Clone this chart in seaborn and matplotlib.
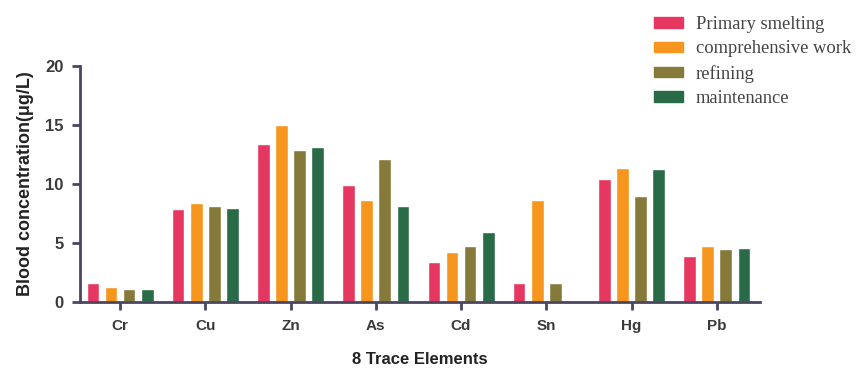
import numpy as np
import pandas as pd
import matplotlib
matplotlib.use("Agg")
import matplotlib.pyplot as plt
import seaborn as sns

# data
elements = ["Cr", "Cu", "Zn", "As", "Cd", "Sn", "Hg", "Pb"]
groups = ["Primary smelting", "comprehensive work", "refining", "maintenance"]
primary_smelting = [1.6, 7.9, 13.4, 9.95, 3.35, 1.6, 10.45, 3.9]
comprehensive_work = [1.3, 8.4, 15.0, 8.6, 4.2, 8.6, 11.35, 4.75]
refining = [1.1, 8.1, 12.9, 12.1, 4.7, 1.6, 9.0, 4.5]
maintenance = [1.1, 8.0, 13.1, 8.1, 5.9, 0.0, 11.3, 4.6]
colors = ["#E5375F", "#F7961F", "#867A3B", "#2A6B47"]

df = pd.DataFrame({
    "element": elements * 4,
    "group": np.repeat(groups, len(elements)),
    "value": primary_smelting + comprehensive_work + refining + maintenance,
})

sns.set_style("white")
plt.rcParams["font.family"] = ["Liberation Sans", "DejaVu Sans"]

fig = plt.figure(figsize=(8.6, 3.75), dpi=100)
ax = fig.add_axes([0.093, 0.195, 0.791, 0.629])

sns.barplot(data=df, x="element", y="value", hue="group", order=elements,
            hue_order=groups, palette=colors, width=0.85, gap=0.3,
            saturation=1, legend=False, ax=ax)

axis_col = "#4B4660"
ax.set_ylim(0, 20)
ax.set_xlim(-0.47, 7.51)
ax.set_yticks([0, 5, 10, 15, 20])
for s in ["top", "right"]:
    ax.spines[s].set_visible(False)
for s in ["left", "bottom"]:
    ax.spines[s].set_color(axis_col)
    ax.spines[s].set_linewidth(2)
ax.tick_params(axis="both", bottom=True, left=True, direction="out", length=6,
               width=2, color=axis_col, labelcolor="#3A3A3A", pad=6)
ax.tick_params(axis="y", labelsize=12)
ax.tick_params(axis="x", labelsize=11)
for lab in ax.get_yticklabels():
    lab.set_fontweight("bold")
for lab in ax.get_xticklabels():
    lab.set_fontweight("semibold")

ax.set_ylabel("Blood concentration(\u03bcg/L)", fontsize=13, fontweight="bold",
              color="#222222", labelpad=8)
ax.set_xlabel("8 Trace Elements", fontsize=12, fontweight="bold",
              color="#222222", labelpad=14)

handles = [plt.Rectangle((0, 0), 1, 1, color=c) for c in colors]
fig.legend(handles, groups, loc="upper left", bbox_to_anchor=(0.752, 0.977),
           frameon=False, prop={"family": "Liberation Serif", "size": 13.3},
           labelcolor="#444444", handlelength=1.55, handleheight=0.5,
           handletextpad=0.7, labelspacing=0.4, borderaxespad=0)

fig.savefig("out.png", dpi=100)
